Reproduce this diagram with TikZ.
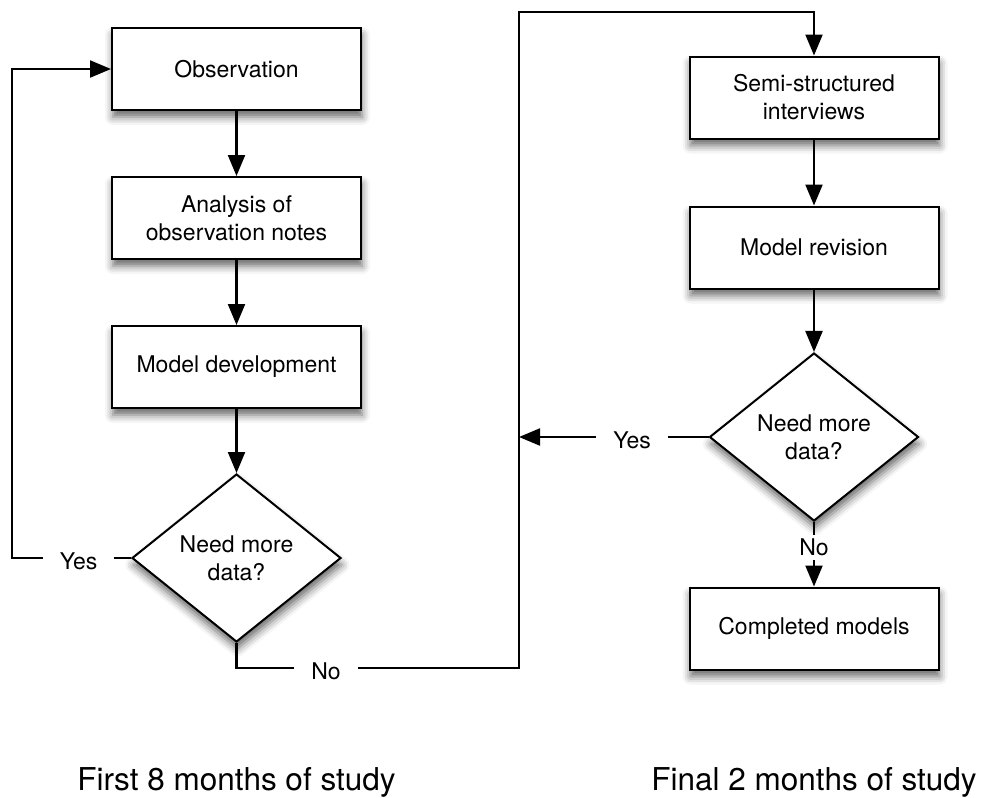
\documentclass[tikz,border=0pt]{standalone}
\usepackage{fontspec}
\setmainfont{TeX Gyre Heros}
\usetikzlibrary{shapes.geometric,arrows.meta,shadows.blur}

\begin{document}
\begin{tikzpicture}[x=1pt,y=-1pt,
  base/.style={draw=black, line width=2pt, fill=white, inner sep=0pt,
    align=center, font=\fontsize{23}{28}\selectfont,
    blur shadow={shadow xshift=1pt, shadow yshift=-7pt,
      shadow blur radius=8pt, shadow opacity=60}},
  stepbox/.style={base, rectangle, minimum width=249pt, minimum height=82pt},
  decision/.style={base, diamond, minimum width=209pt, minimum height=168pt},
  flow/.style={line width=2.2pt, line join=miter,
    -{Triangle[length=21pt,width=17pt]}},
  lbl/.style={fill=white, font=\fontsize{23}{28}\selectfont,
    inner xsep=17pt, inner ysep=4pt, yshift=-3pt},
  caption/.style={font=\fontsize{31.5}{36}\selectfont, anchor=base}
]
\useasboundingbox (0,0) rectangle (983,798);

% left column: observation phase
\node[stepbox] (obs) at (236.5,69)  {Observation};
\node[stepbox] (ana) at (236.5,218) {Analysis of\\observation notes};
\node[stepbox] (dev) at (236.5,367) {Model development};
\node[decision] (d1) at (236.5,558) {Need more\\data?};

% right column: interview phase
\node[stepbox] (semi) at (814,97.5)  {Semi-structured\\interviews};
\node[stepbox] (rev)  at (814,247.5) {Model revision};
\node[decision] (d2)  at (814,437)   {Need more\\data?};
\node[stepbox] (done) at (814,628.5) {Completed models};

% routing points
\coordinate (yesL) at (12,558);
\coordinate (noA)  at (236.5,668);
\coordinate (noB)  at (519,668);
\coordinate (noC)  at (519,12);
\coordinate (yesR) at (519,437);

% straight connectors
\draw[flow] (obs) -- (ana);
\draw[flow] (ana) -- (dev);
\draw[flow] (dev) -- (d1);
\draw[flow] (semi) -- (rev);
\draw[flow] (rev) -- (d2);

% decision branches
\draw[flow] (d1.west) -- node[lbl, pos=0.44] {Yes} (yesL) |- (obs.west);
\draw[flow] (d1.south) -- (noA) -- node[lbl, pos=0.317] {No} (noB)
  -- (noC) -| (semi.north);
\draw[flow] (d2.west) -- node[lbl, pos=0.403] {Yes} (yesR);
\draw[flow] (d2.south) -- node[lbl, pos=0.39, yshift=3pt, inner xsep=4pt] {No} (done.north);

% phase captions
\node[caption] (capL) at (236.5,790) {First 8 months of study};
\node[caption] (capR) at (814,790)   {Final 2 months of study};
\end{tikzpicture}
\end{document}
